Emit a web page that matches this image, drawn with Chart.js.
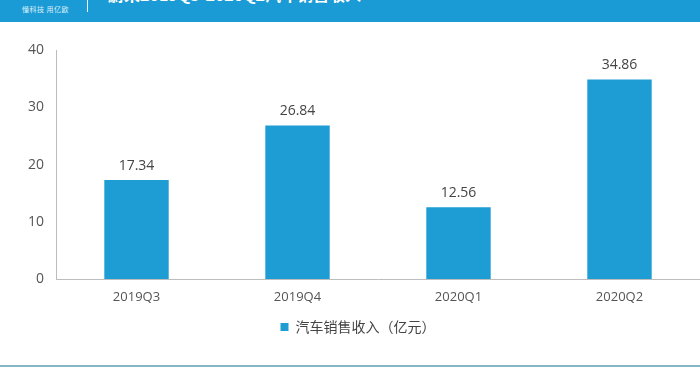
<!DOCTYPE html>
<html>
<head>
<meta charset="utf-8">
<script src="https://cdn.jsdelivr.net/npm/chart.js@4"></script>
<style>
  body { margin: 0; background: #fff; }
  .wrap { position: relative; width: 700px; height: 370px; overflow: hidden; }
  .header { position: absolute; left: 0; top: 0; width: 700px; height: 22px; background: #1b9bd5; overflow: hidden; }
  .brand { position: absolute; left: 22px; top: 4px; font: 7px "Noto Sans CJK SC", sans-serif; color: #dff1fa; letter-spacing: 0.5px; }
  .sep { position: absolute; left: 87px; top: 0; width: 1px; height: 12px; background: #e6f4fb; }
  .title { position: absolute; left: 108px; top: -18px; font: bold 16px "Noto Sans CJK SC", sans-serif; color: #fff; white-space: nowrap; }
  .bottom { position: absolute; left: 0; top: 365px; width: 700px; height: 2px; background: #86b6c3; }
  canvas { position: absolute; left: 0; top: 0; }
</style>
</head>
<body>
<div class="wrap">
  <canvas id="chart" width="700" height="370"></canvas>
  <div class="header">
    <div class="brand">懂科技 用亿欧</div>
    <div class="sep"></div>
    <div class="title">蔚来2019Q3-2020Q2汽车销售收入</div>
  </div>
  <div class="bottom"></div>
</div>
<script>
const quarters = ['2019Q3', '2019Q4', '2020Q1', '2020Q2']
const revenue = [17.34, 26.84, 12.56, 34.86]
const seriesName = '汽车销售收入（亿元）'

const barColor = '#1e9cd4'
const textColor = '#555'

// values above bars
const valueLabels = {
  id: 'valueLabels',
  afterDatasetsDraw(chart) {
    const ctx = chart.ctx
    const meta = chart.getDatasetMeta(0)
    ctx.save()
    ctx.font = '14px "Open Sans", sans-serif'
    ctx.fillStyle = '#444'
    ctx.textAlign = 'center'
    ctx.textBaseline = 'bottom'
    meta.data.forEach((bar, i) => {
      ctx.fillText(revenue[i].toFixed(2), bar.x, bar.y - 7)
    })
    ctx.restore()
  }
}

new Chart(document.getElementById('chart'), {
  type: 'bar',
  data: {
    labels: quarters,
    datasets: [{
      label: seriesName,
      data: revenue,
      backgroundColor: barColor,
      borderWidth: 0,
      categoryPercentage: 1,
      barPercentage: 0.4
    }]
  },
  options: {
    responsive: false,
    animation: false,
    layout: { padding: { top: 50, right: 0, left: 16, bottom: 26 } },
    plugins: {
      tooltip: { enabled: false },
      legend: {
        position: 'bottom',
        labels: {
          boxWidth: 8,
          boxHeight: 8,
          padding: 5,
          color: '#444',
          font: { size: 14, family: '"Noto Sans CJK SC", sans-serif' }
        }
      }
    },
    scales: {
      x: {
        grid: { display: false, drawTicks: false },
        border: { display: true, color: '#bdbdbd', width: 1 },
        ticks: { color: textColor, padding: 10, font: { size: 13, family: '"Open Sans", sans-serif' } }
      },
      y: {
        min: 0,
        max: 40,
        ticks: { stepSize: 10, color: textColor, padding: 12, font: { size: 14, family: '"Open Sans", sans-serif' } },
        grid: { drawOnChartArea: false, drawTicks: false },
        border: { display: true, color: '#bdbdbd', width: 1 }
      }
    }
  },
  plugins: [valueLabels]
})
</script>
</body>
</html>
